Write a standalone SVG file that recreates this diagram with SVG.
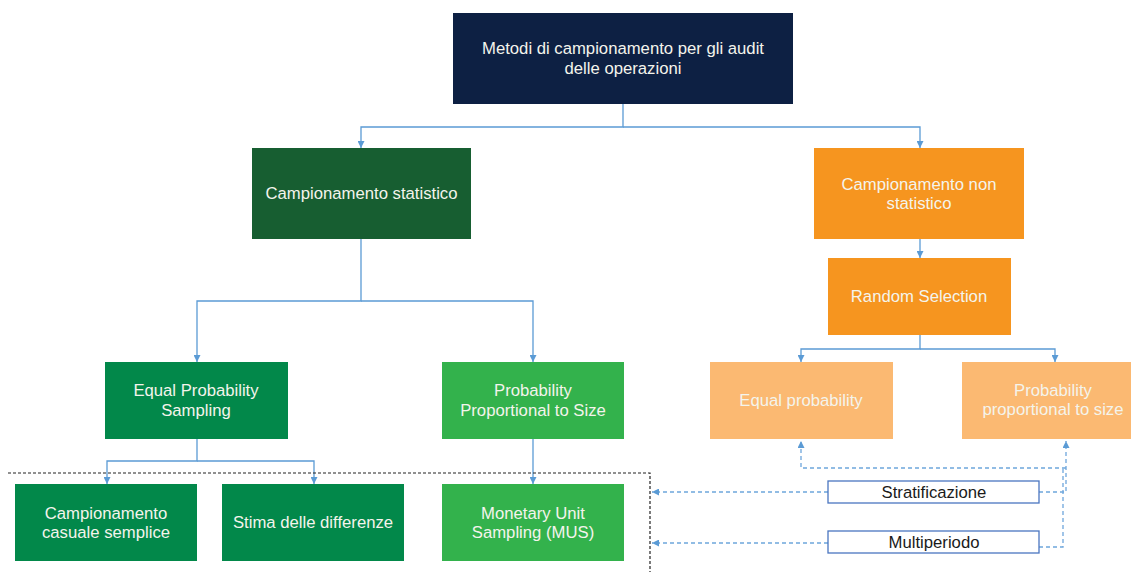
<svg xmlns="http://www.w3.org/2000/svg" width="1131" height="572" viewBox="0 0 1131 572">
<defs>
<style>
.t{font-family:"Liberation Sans",Arial,sans-serif;font-size:16.7px;fill:#f4f4ec;text-anchor:middle}
.d{font-family:"Liberation Sans",Arial,sans-serif;font-size:16.7px;fill:#1a1a1a;text-anchor:middle}
.c{fill:none;stroke:#5b9bd5;stroke-width:1.3}
.dc{fill:none;stroke:#6ea6dc;stroke-width:1.3;stroke-dasharray:4 3}
.bk{fill:none;stroke:#222;stroke-width:1.2;stroke-dasharray:3 2}
.lb{fill:#fff;stroke:#4a76c0;stroke-width:1.3}
</style>
<marker id="a" viewBox="0 0 8 8" refX="8" refY="4" markerWidth="7" markerHeight="7" markerUnits="userSpaceOnUse" orient="auto"><path d="M0,0 L8,4 L0,8 z" fill="#5b9bd5"/></marker>
</defs>
<rect width="1131" height="572" fill="#fff"/>
<g id="connectors">
<path class="c" d="M623,104 V127 H361 V148" marker-end="url(#a)"/>
<path class="c" d="M623,127 H920 V148" marker-end="url(#a)"/>
<path class="c" d="M361,239 V301 H197 V362" marker-end="url(#a)"/>
<path class="c" d="M361,301 H533 V362" marker-end="url(#a)"/>
<path class="c" d="M920,239 V258" marker-end="url(#a)"/>
<path class="c" d="M920,335 V349 H801 V362" marker-end="url(#a)"/>
<path class="c" d="M920,349 H1055 V362" marker-end="url(#a)"/>
<path class="c" d="M197,439 V461 H107 V484" marker-end="url(#a)"/>
<path class="c" d="M197,461 H314 V484" marker-end="url(#a)"/>
<path class="c" d="M533,439 V484" marker-end="url(#a)"/>
<path class="dc" d="M1039,492 H1066 V441" marker-end="url(#a)"/>
<path class="dc" d="M1066,468 H801 V441" marker-end="url(#a)"/>
<path class="dc" d="M1039,547 H1063 V468"/>
<path class="dc" d="M828,492 H652" marker-end="url(#a)"/>
<path class="dc" d="M828,543 H652" marker-end="url(#a)"/>
<path class="bk" d="M8,473 H650 V572"/>
</g>
<g id="n-root"><rect x="453" y="13" width="340" height="91" fill="#0d2043"/><text class="t" x="623" y="54">Metodi di campionamento per gli audit</text><text class="t" x="623" y="74">delle operazioni</text></g>
<g id="n-stat"><rect x="252" y="148" width="219" height="91" fill="#175e31"/><text class="t" x="361.5" y="199">Campionamento statistico</text></g>
<g id="n-nonstat"><rect x="814" y="148" width="210" height="91" fill="#f6951f"/><text class="t" x="919" y="190">Campionamento non</text><text class="t" x="919" y="209">statistico</text></g>
<g id="n-random"><rect x="828" y="258" width="183" height="77" fill="#f6951f"/><text class="t" x="919" y="302">Random Selection</text></g>
<g id="n-eps"><rect x="105" y="362" width="183" height="77" fill="#02884a"/><text class="t" x="196" y="396">Equal Probability</text><text class="t" x="196" y="416">Sampling</text></g>
<g id="n-pps"><rect x="442" y="362" width="182" height="77" fill="#33b24c"/><text class="t" x="533" y="396">Probability</text><text class="t" x="533" y="416">Proportional to Size</text></g>
<g id="n-eqprob"><rect x="710" y="362" width="183" height="77" fill="#fbb972"/><text class="t" x="801" y="405.5">Equal probability</text></g>
<g id="n-ppsize"><rect x="962" y="362" width="183" height="77" fill="#fbb972"/><text class="t" x="1053" y="395.5">Probability</text><text class="t" x="1053" y="415">proportional to size</text></g>
<g id="n-ccs"><rect x="15" y="484" width="182" height="77" fill="#02884a"/><text class="t" x="106" y="518.5">Campionamento</text><text class="t" x="106" y="538">casuale semplice</text></g>
<g id="n-stima"><rect x="222" y="484" width="182" height="77" fill="#02884a"/><text class="t" x="313" y="528">Stima delle differenze</text></g>
<g id="n-mus"><rect x="442" y="484" width="182" height="77" fill="#33b24c"/><text class="t" x="533" y="518.5">Monetary Unit</text><text class="t" x="533" y="538">Sampling (MUS)</text></g>
<g id="n-strat"><rect class="lb" x="828" y="481" width="211" height="22"/><text class="d" x="934" y="497.5">Stratificazione</text></g>
<g id="n-multi"><rect class="lb" x="828" y="531" width="211" height="22"/><text class="d" x="934" y="548">Multiperiodo</text></g>
</svg>
